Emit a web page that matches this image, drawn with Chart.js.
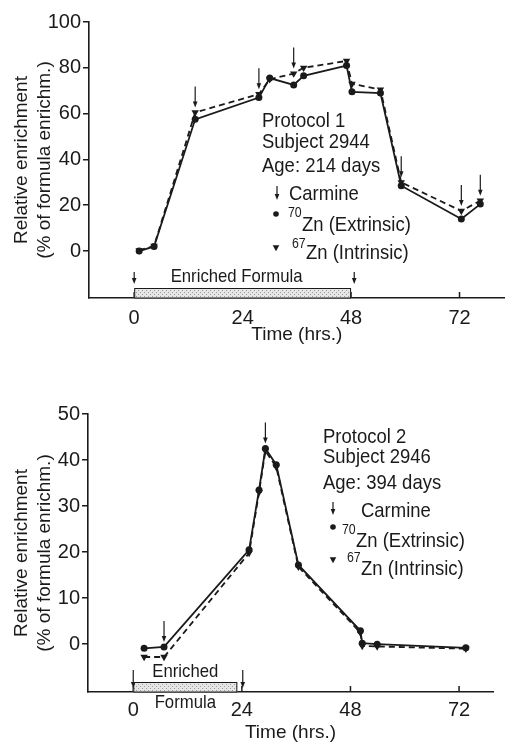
<!DOCTYPE html>
<html>
<head>
<meta charset="utf-8">
<script src="https://cdn.jsdelivr.net/npm/chart.js@4.4.1/dist/chart.umd.min.js"></script>
<style>
  body { margin: 0; background: #fff; }
  canvas { position: absolute; left: 0; }
  #top { top: 0; }
  #bottom { top: 370px; }
</style>
</head>
<body>
<canvas id="top" width="509" height="350"></canvas>
<canvas id="bottom" width="509" height="374"></canvas>
<script>
const xTicks = [0, 24, 48, 72];

// Protocol 1, subject 2944
const time1 = [1.1, 4.4, 13.5, 27.6, 30, 35.3, 37.5, 47, 48.2, 54.5, 59.1, 72.4, 76.6];
const extrinsic1 = [0, 2, 57.5, 67, 75.5, 72.5, 76.5, 81, 69.5, 69, 28.5, 14, 20.5];
const intrinsic1 = [0.3, 2.2, 60.5, 68.5, 75, 77.5, 80, 83, 73, 70.5, 30, 17.5, 22];
const carmine1 = [2, 3, 5, 10, 11, 12];      // indices of the carmine doses
const yTicks1 = [0, 20, 40, 60, 80, 100];
const formula1 = [0, 48];
const formulaMarks1 = [0, 48.7];
const info1 = ['Protocol 1', 'Subject 2944', 'Age: 214 days'];

// Protocol 2, subject 2946
const time2 = [2.4, 6.8, 25.6, 27.8, 29.2, 31.6, 36.5, 50.2, 50.6, 53.9, 73.5];
const extrinsic2 = [-0.9, -0.6, 20.5, 33.5, 42.5, 39, 17.2, 2.9, 0.2, 0, -0.8];
const intrinsic2 = [-2.8, -2.8, 19.8, 33, 42, 38.5, 16.8, 2.5, -0.4, -0.5, -1];
const carmine2 = [1, 4];
const yTicks2 = [0, 10, 20, 30, 40, 50];
const formula2 = [0, 23];
const formulaMarks2 = [0, 24.2];
const info2 = ['Protocol 2', 'Subject 2946', 'Age: 394 days'];

const INK = '#1a1a1a';
const FAMILY = "'Liberation Sans', Arial, sans-serif";
Chart.defaults.font.family = FAMILY;
Chart.defaults.color = INK;

function txt(ctx, s, x, y, size, align) {
  ctx.save();
  ctx.font = size + 'px ' + FAMILY;
  ctx.translate(x, y);
  ctx.scale(0.88, 1);
  ctx.textAlign = align || 'left';
  ctx.textBaseline = 'alphabetic';
  ctx.fillText(s, 0, 0);
  ctx.restore();
}

function arrow(ctx, x, y0, y1) {
  ctx.beginPath();
  ctx.lineWidth = 1.2;
  ctx.moveTo(x, y0);
  ctx.lineTo(x, y1 - 4);
  ctx.stroke();
  ctx.beginPath();
  ctx.moveTo(x - 2.3, y1 - 6);
  ctx.lineTo(x + 2.3, y1 - 6);
  ctx.lineTo(x, y1);
  ctx.closePath();
  ctx.fill();
}

function stipple(ctx) {
  const c = document.createElement('canvas');
  c.width = c.height = 4;
  const g = c.getContext('2d');
  g.fillStyle = '#e6e6e6';
  g.fillRect(0, 0, 4, 4);
  g.fillStyle = '#9a9a9a';
  g.fillRect(0, 0, 1, 1);
  g.fillRect(2, 2, 1, 1);
  return ctx.createPattern(c, 'repeat');
}

function annotations(o) {
  return {
    id: 'annotations',
    afterDraw(chart) {
      const { ctx, chartArea } = chart;
      const x = chart.scales.x, y = chart.scales.y;
      const bottom = chartArea.bottom;
      ctx.save();
      ctx.strokeStyle = INK;
      ctx.fillStyle = INK;

      // x ticks point into the plot
      ctx.lineWidth = 1.5;
      xTicks.forEach(v => {
        const px = x.getPixelForValue(v);
        ctx.beginPath();
        ctx.moveTo(px, bottom);
        ctx.lineTo(px, bottom - 6);
        ctx.stroke();
      });

      // enriched formula period
      const b0 = x.getPixelForValue(o.formula[0]);
      const b1 = x.getPixelForValue(o.formula[1]);
      ctx.fillStyle = stipple(ctx);
      ctx.fillRect(b0, bottom - 10, b1 - b0, 10);
      ctx.fillStyle = INK;
      ctx.lineWidth = 1;
      ctx.strokeRect(b0 + 0.5, bottom - 9.5, b1 - b0 - 1, 9.5);
      o.formulaMarks.forEach(v => arrow(ctx, x.getPixelForValue(v), bottom - o.markTop, bottom - o.markTip));
      o.formulaText.forEach(t => txt(ctx, t.s, (b0 + b1) / 2 + t.dx, bottom + t.dy, 19, 'center'));

      // carmine doses
      o.carmine.forEach(i => {
        const px = x.getPixelForValue(o.time[i]);
        const tip = Math.min(y.getPixelForValue(o.extrinsic[i]), y.getPixelForValue(o.intrinsic[i])) - 5;
        arrow(ctx, px, tip - 21, tip);
      });

      // key
      const L = o.key;
      L.lines.forEach((yy, i) => txt(ctx, o.info[i], L.x, yy, 21));
      arrow(ctx, L.arrow[0], L.arrow[1], L.arrow[2]);
      txt(ctx, 'Carmine', L.carmine[0], L.carmine[1], 21);
      ctx.beginPath();
      ctx.arc(L.ext.bx, L.ext.by, 2.8, 0, Math.PI * 2);
      ctx.fill();
      txt(ctx, '70', L.ext.sx, L.ext.sy, 14);
      txt(ctx, 'Zn (Extrinsic)', L.ext.sx + 14, L.ext.y, 21);
      ctx.beginPath();
      ctx.moveTo(L.intr.bx - 3.3, L.intr.by - 2.7);
      ctx.lineTo(L.intr.bx + 3.3, L.intr.by - 2.7);
      ctx.lineTo(L.intr.bx, L.intr.by + 3.3);
      ctx.closePath();
      ctx.fill();
      txt(ctx, '67', L.intr.sx, L.intr.sy, 14);
      txt(ctx, 'Zn (Intrinsic)', L.intr.sx + 14, L.intr.y, 21);
      ctx.restore();
    }
  };
}

function makeChart(id, o) {
  const pts = vals => o.time.map((t, i) => ({ x: t, y: vals[i] }));
  return new Chart(document.getElementById(id), {
    type: 'line',
    data: {
      datasets: [
        {
          label: '70Zn (Extrinsic)', data: pts(o.extrinsic),
          borderColor: INK, backgroundColor: INK, borderWidth: 1.8,
          pointStyle: 'circle', pointRadius: 3.5, pointBorderWidth: 0
        },
        {
          label: '67Zn (Intrinsic)', data: pts(o.intrinsic),
          borderColor: INK, backgroundColor: INK, borderWidth: 1.8, borderDash: [6, 4],
          pointStyle: 'triangle', rotation: 180, pointRadius: 4.3, pointBorderWidth: 0
        }
      ]
    },
    options: {
      responsive: false,
      animation: false,
      devicePixelRatio: 1,
      layout: { padding: { top: o.padTop, right: o.padRight, left: 0, bottom: 0 } },
      plugins: { legend: { display: false }, tooltip: { enabled: false } },
      scales: {
        x: {
          type: 'linear', min: -10, max: o.xMax,
          afterBuildTicks: s => { s.ticks = xTicks.map(v => ({ value: v })); },
          afterFit: s => { s.height = 52; },
          border: { display: true, color: INK, width: 1.6 },
          grid: { display: false, drawTicks: false },
          ticks: { color: INK, font: { size: 20 }, padding: o.xPad, maxRotation: 0 },
          title: { display: true, text: 'Time (hrs.)', color: INK, font: { size: 19, lineHeight: 1.21 }, padding: { top: 0, bottom: o.titlePad } }
        },
        y: {
          min: o.yMin, max: o.yMax,
          afterBuildTicks: s => { s.ticks = o.yTicks.map(v => ({ value: v })); },
          afterFit: s => { s.width = o.yWidth; },
          border: { display: true, color: INK, width: 1.6 },
          grid: { display: true, drawOnChartArea: false, drawTicks: true, tickLength: 6, color: INK, lineWidth: 1.5 },
          ticks: { color: INK, font: { size: 20 }, padding: 2 },
          title: {
            display: true, text: ['Relative enrichment', '(% of formula enrichm.)'], color: INK,
            font: { size: 19, lineHeight: 1.21 }, padding: { top: 10, bottom: 0 }
          }
        }
      }
    },
    plugins: [annotations(o)]
  });
}

makeChart('top', {
  time: time1, extrinsic: extrinsic1, intrinsic: intrinsic1, carmine: carmine1,
  yTicks: yTicks1, yMin: -20.5, yMax: 100, xMax: 82,
  formula: formula1, formulaMarks: formulaMarks1, markTop: 26, markTip: 14,
  formulaText: [{ s: 'Enriched Formula', dx: -6, dy: -16 }],
  info: info1, padTop: 22, padRight: 2, yWidth: 89, xPad: 8, titlePad: 3.5,
  key: {
    x: 262, lines: [127, 148, 172], arrow: [277, 186, 200], carmine: [289, 200],
    ext: { bx: 276, by: 214, sx: 288, sy: 217, y: 231 },
    intr: { bx: 276, by: 248, sx: 292, sy: 248, y: 259 }
  }
});

makeChart('bottom', {
  time: time2, extrinsic: extrinsic2, intrinsic: intrinsic2, carmine: carmine2,
  yTicks: yTicks2, yMin: -10.4, yMax: 50, xMax: 79.5,
  formula: formula2, formulaMarks: formulaMarks2, markTop: 22, markTip: 4,
  formulaText: [{ s: 'Enriched', dx: 0, dy: -15 }, { s: 'Formula', dx: 0, dy: 16 }],
  info: info2, padTop: 44, padRight: 16, yWidth: 88, xPad: 6, titlePad: 0,
  key: {
    x: 323, lines: [73, 93, 119], arrow: [333, 132, 145], carmine: [361, 147],
    ext: { bx: 333, by: 157, sx: 342, sy: 164, y: 177 },
    intr: { bx: 333, by: 190, sx: 347, sy: 192, y: 205 }
  }
});
</script>
</body>
</html>
